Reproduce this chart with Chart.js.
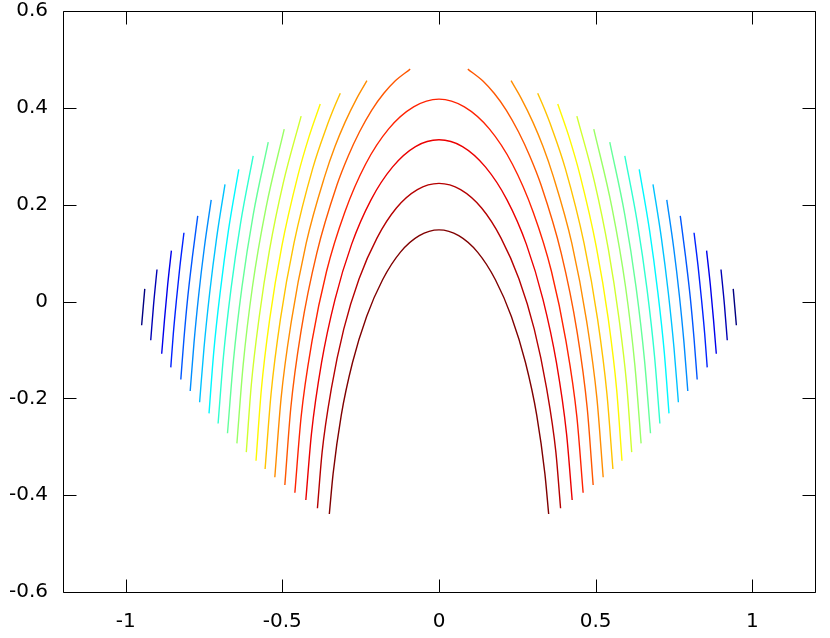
<!DOCTYPE html>
<html><head><meta charset="utf-8">
<script src="https://cdn.jsdelivr.net/npm/chart.js@4/dist/chart.umd.min.js"></script>
<style>html,body{margin:0;padding:0;background:#fff}canvas{display:block}</style>
</head><body>
<canvas id="c" width="830" height="638"></canvas>
<script>
// Axis ranges and tick labels
const xRange = [-1.2, 1.2];
const yRange = [-0.6, 0.6];
const xTickValues = [-1, -0.5, 0, 0.5, 1];
const yTickValues = [-0.6, -0.4, -0.2, 0, 0.2, 0.4, 0.6];

// One colour per contour level (outermost blue -> innermost dark red)
const levelColors = ['#000080','#0000B5','#0000EB','#0022FF','#0057FF','#008DFF','#00C3FF','#00F8FF','#2FFFD0','#65FF9A',
                     '#9AFF65','#D0FF2F','#FFF800','#FFC300','#FF8D00','#FF5700','#FF2200','#EB0000','#B50000','#800000'];

// Levels 1-16: open arcs cut by the domain edge (y samples shared by the left and right arc)
const arcY = [
  [-0.049,-0.011,0.026],
  [-0.080,-0.007,0.066],
  [-0.108,-0.037,0.034,0.105],
  [-0.136,-0.067,0.003,0.072,0.142],
  [-0.161,-0.077,0.008,0.092,0.177],
  [-0.185,-0.086,0.013,0.111,0.210],
  [-0.208,-0.096,0.017,0.130,0.242],
  [-0.231,-0.105,0.021,0.147,0.273],
  [-0.252,-0.114,0.025,0.163,0.301],
  [-0.272,-0.122,0.029,0.179,0.329],
  [-0.293,-0.131,0.032,0.194,0.356],
  [-0.311,-0.172,-0.033,0.106,0.245,0.383],
  [-0.329,-0.182,-0.035,0.113,0.261,0.340,0.408],
  [-0.346,-0.191,-0.036,0.120,0.275,0.360,0.400,0.430],
  [-0.363,-0.200,-0.040,0.120,0.260,0.320,0.370,0.420,0.456],
  [-0.379,-0.220,-0.060,0.100,0.240,0.300,0.350,0.395,0.430,0.455,0.480]
];
const arcLeftX = [
  [-0.949,-0.944,-0.939],
  [-0.920,-0.911,-0.900],
  [-0.885,-0.876,-0.866,-0.854],
  [-0.856,-0.848,-0.838,-0.827,-0.814],
  [-0.824,-0.814,-0.802,-0.787,-0.770],
  [-0.794,-0.782,-0.767,-0.749,-0.727],
  [-0.764,-0.750,-0.732,-0.710,-0.683],
  [-0.734,-0.719,-0.698,-0.672,-0.639],
  [-0.705,-0.688,-0.664,-0.633,-0.593],
  [-0.675,-0.656,-0.629,-0.593,-0.545],
  [-0.645,-0.625,-0.595,-0.552,-0.494],
  [-0.615,-0.599,-0.574,-0.541,-0.497,-0.440],
  [-0.584,-0.567,-0.540,-0.502,-0.450,-0.415,-0.379],
  [-0.555,-0.536,-0.506,-0.463,-0.403,-0.359,-0.335,-0.315],
  [-0.524,-0.504,-0.471,-0.424,-0.364,-0.332,-0.300,-0.262,-0.230],
  [-0.492,-0.473,-0.440,-0.390,-0.326,-0.290,-0.254,-0.215,-0.176,-0.141,-0.092]
];
const arcRightX = [
  [0.949,0.944,0.939],
  [0.920,0.911,0.900],
  [0.885,0.876,0.866,0.854],
  [0.856,0.848,0.838,0.827,0.814],
  [0.824,0.814,0.802,0.787,0.770],
  [0.794,0.782,0.767,0.749,0.727],
  [0.764,0.750,0.732,0.710,0.683],
  [0.734,0.719,0.698,0.672,0.639],
  [0.705,0.688,0.664,0.633,0.593],
  [0.675,0.656,0.629,0.593,0.545],
  [0.645,0.625,0.595,0.552,0.494],
  [0.615,0.599,0.574,0.541,0.497,0.440],
  [0.584,0.567,0.540,0.502,0.450,0.415,0.379],
  [0.555,0.536,0.506,0.463,0.403,0.359,0.335,0.315],
  [0.524,0.504,0.471,0.424,0.364,0.332,0.300,0.262,0.230],
  [0.492,0.473,0.440,0.390,0.326,0.290,0.254,0.215,0.176,0.141,0.092]
];

// Levels 17-20: arches closed over the top
const innerX = [
  [-0.460,-0.440,-0.405,-0.359,-0.301,-0.234,-0.160,-0.081,0,0.081,0.160,0.234,0.301,0.359,0.405,0.440,0.460],
  [-0.425,-0.407,-0.375,-0.332,-0.279,-0.217,-0.148,-0.075,0,0.075,0.148,0.217,0.279,0.332,0.375,0.407,0.425],
  [-0.388,-0.373,-0.343,-0.304,-0.255,-0.198,-0.136,-0.069,0,0.069,0.136,0.198,0.255,0.304,0.343,0.373,0.388],
  [-0.350,-0.338,-0.312,-0.276,-0.231,-0.180,-0.123,-0.063,0,0.063,0.123,0.180,0.231,0.276,0.312,0.338,0.350]
];
const innerY = [
  [-0.395,-0.238,-0.081,0.062,0.184,0.284,0.357,0.402,0.418,0.402,0.357,0.284,0.184,0.062,-0.081,-0.238,-0.395],
  [-0.410,-0.273,-0.127,0.004,0.118,0.210,0.278,0.320,0.334,0.320,0.278,0.210,0.118,0.004,-0.127,-0.273,-0.410],
  [-0.427,-0.311,-0.178,-0.057,0.047,0.131,0.193,0.231,0.244,0.231,0.193,0.131,0.047,-0.057,-0.178,-0.311,-0.427],
  [-0.439,-0.356,-0.235,-0.126,-0.031,0.045,0.102,0.136,0.148,0.136,0.102,0.045,-0.031,-0.126,-0.235,-0.356,-0.439]
];

const lineStyle = {showLine:true, pointRadius:0, borderWidth:1.4, cubicInterpolationMode:'monotone', fill:false};
const pts = (xs, ys) => ys.map((y, k) => ({x: xs[k], y})).sort((p, q) => p.x - q.x);
const datasets = [];
arcY.forEach((ys, i) => {
  datasets.push(Object.assign({data: pts(arcLeftX[i], ys), borderColor: levelColors[i]}, lineStyle));
  datasets.push(Object.assign({data: pts(arcRightX[i], ys), borderColor: levelColors[i]}, lineStyle));
});
innerY.forEach((ys, j) => {
  datasets.push(Object.assign({data: pts(innerX[j], ys), borderColor: levelColors[arcY.length + j]}, lineStyle));
});

const TICK = 13;
const frameTicks = {
  id: 'frameTicks',
  afterDraw(chart) {
    const {ctx, chartArea: a, scales} = chart;
    const L = Math.round(a.left) + 0.5, R = Math.round(a.right) + 0.5;
    const T = Math.round(a.top) + 0.5, B = Math.round(a.bottom) + 0.5;
    ctx.save();
    ctx.strokeStyle = '#000';
    ctx.lineWidth = 1;
    ctx.beginPath();
    ctx.rect(L, T, R - L, B - T);
    xTickValues.forEach(v => {
      const px = Math.round(scales.x.getPixelForValue(v)) + 0.5;
      ctx.moveTo(px, B); ctx.lineTo(px, B - TICK);
      ctx.moveTo(px, T); ctx.lineTo(px, T + TICK);
    });
    yTickValues.forEach(v => {
      const py = Math.round(scales.y.getPixelForValue(v)) + 0.5;
      ctx.moveTo(L, py); ctx.lineTo(L + TICK, py);
      ctx.moveTo(R, py); ctx.lineTo(R - TICK, py);
    });
    ctx.stroke();
    ctx.restore();
  }
};

const tickFont = {family: 'DejaVu Sans', size: 20};
new Chart(document.getElementById('c'), {
  type: 'scatter',
  data: {datasets},
  options: {
    responsive: false, animation: false, devicePixelRatio: 1,
    layout: {padding: {top: 11, right: 15, left: 0, bottom: 0}},
    plugins: {legend: {display: false}, tooltip: {enabled: false}},
    scales: {
      x: {
        type: 'linear', min: xRange[0], max: xRange[1],
        grid: {display: false, drawTicks: false}, border: {display: false},
        afterBuildTicks: s => { s.ticks = xTickValues.map(v => ({value: v})); },
        afterFit: s => { s.height = 46; s.paddingLeft = 0; s.paddingRight = 0; },
        ticks: {padding: 18, color: '#000', font: tickFont, maxRotation: 0, autoSkip: false, callback: v => String(v)}
      },
      y: {
        type: 'linear', min: yRange[0], max: yRange[1],
        grid: {display: false, drawTicks: false}, border: {display: false},
        afterBuildTicks: s => { s.ticks = yTickValues.map(v => ({value: v})); },
        afterFit: s => { s.width = 63; s.paddingTop = 0; s.paddingBottom = 0; },
        ticks: {padding: 15, color: '#000', font: tickFont, autoSkip: false, callback: v => String(v)}
      }
    }
  },
  plugins: [frameTicks]
});
</script>
</body></html>
